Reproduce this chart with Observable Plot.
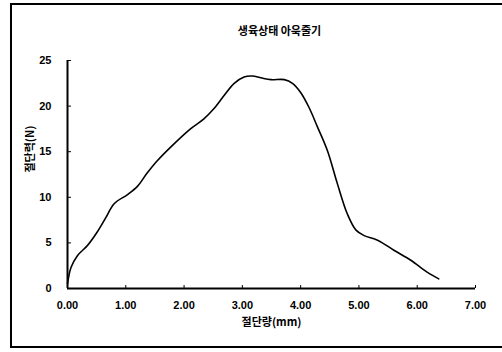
<!DOCTYPE html>
<html><head><meta charset="utf-8">
<script src="https://cdn.jsdelivr.net/npm/d3@7"></script>
<script src="https://cdn.jsdelivr.net/npm/@observablehq/plot@0.6"></script>
<style>
html,body{margin:0;padding:0;background:#fff;}
#wrap{position:relative;width:502px;height:352px;overflow:hidden;}
#frame{position:absolute;left:10px;top:3px;width:520px;height:345px;border:2px solid #000;box-sizing:border-box;}
#chart{position:absolute;left:0;top:0;}
</style>
</head><body>
<div id="wrap"><div id="frame"></div><div id="chart"></div></div>
<script>
const title = "생육상태 아욱줄기";
const xLabel = "절단량(mm)";
const yLabel = "절단력(N)";
const xTicks = [0,1,2,3,4,5,6,7];
const yTicks = [0,5,10,15,20,25];
const disp = [0,0.06,0.17,0.34,0.51,0.66,0.80,1.03,1.20,1.36,1.54,1.77,2.11,2.34,2.51,2.69,2.86,3.03,3.17,3.32,3.49,3.72,3.86,4.00,4.14,4.29,4.46,4.63,4.80,4.95,5.09,5.32,5.60,5.89,6.17,6.37];
const force = [0.5,2.3,3.6,4.7,6.2,7.8,9.3,10.3,11.2,12.6,14.0,15.5,17.5,18.6,19.7,21.2,22.5,23.2,23.3,23.1,22.9,22.9,22.5,21.5,19.9,17.7,15.1,11.5,8.2,6.4,5.8,5.3,4.2,3.1,1.8,1.06];
const data = disp.map((d,i)=>({x:d,y:force[i]}));
const font = "'Liberation Sans','Noto Sans CJK KR',sans-serif";

const plot = Plot.plot({
  width: 502, height: 352,
  marginLeft: 67, marginRight: 27, marginTop: 60, marginBottom: 64,
  style: {fontFamily: font, fontSize: "11px", fontWeight: "bold", color: "#000", background: "transparent"},
  x: {domain: [0,7]},
  y: {domain: [0,25]},
  marks: [
    Plot.axisX({ticks: xTicks, tickFormat: d3.format(".2f"), tickSize: -3, tickPadding: 16, label: null, fontWeight: "bold"}),
    Plot.axisY({ticks: yTicks, tickSize: -4, tickPadding: 20, label: null, fontWeight: "bold"}),
    Plot.ruleY([0], {strokeWidth: 2}),
    Plot.ruleX([0], {strokeWidth: 2}),
    Plot.line(data, {x: "x", y: "y", curve: "catmull-rom", stroke: "#000", strokeWidth: 1.6}),
    Plot.text([title], {frameAnchor: "top", dx: 8, dy: -33, fontSize: 11, fontWeight: "bold", fontFamily: "'Noto Sans CJK KR',sans-serif"}),
    Plot.text([xLabel], {frameAnchor: "bottom", dx: 0, dy: 37, fontSize: 11, fontWeight: "bold", fontFamily: "'Noto Sans CJK KR',sans-serif"}),
    Plot.text([yLabel], {frameAnchor: "left", dx: -37, dy: -2, rotate: -90, fontSize: 11, fontWeight: "bold", fontFamily: "'Noto Sans CJK KR',sans-serif"})
  ]
});
document.getElementById("chart").appendChild(plot);
</script>
</body></html>
